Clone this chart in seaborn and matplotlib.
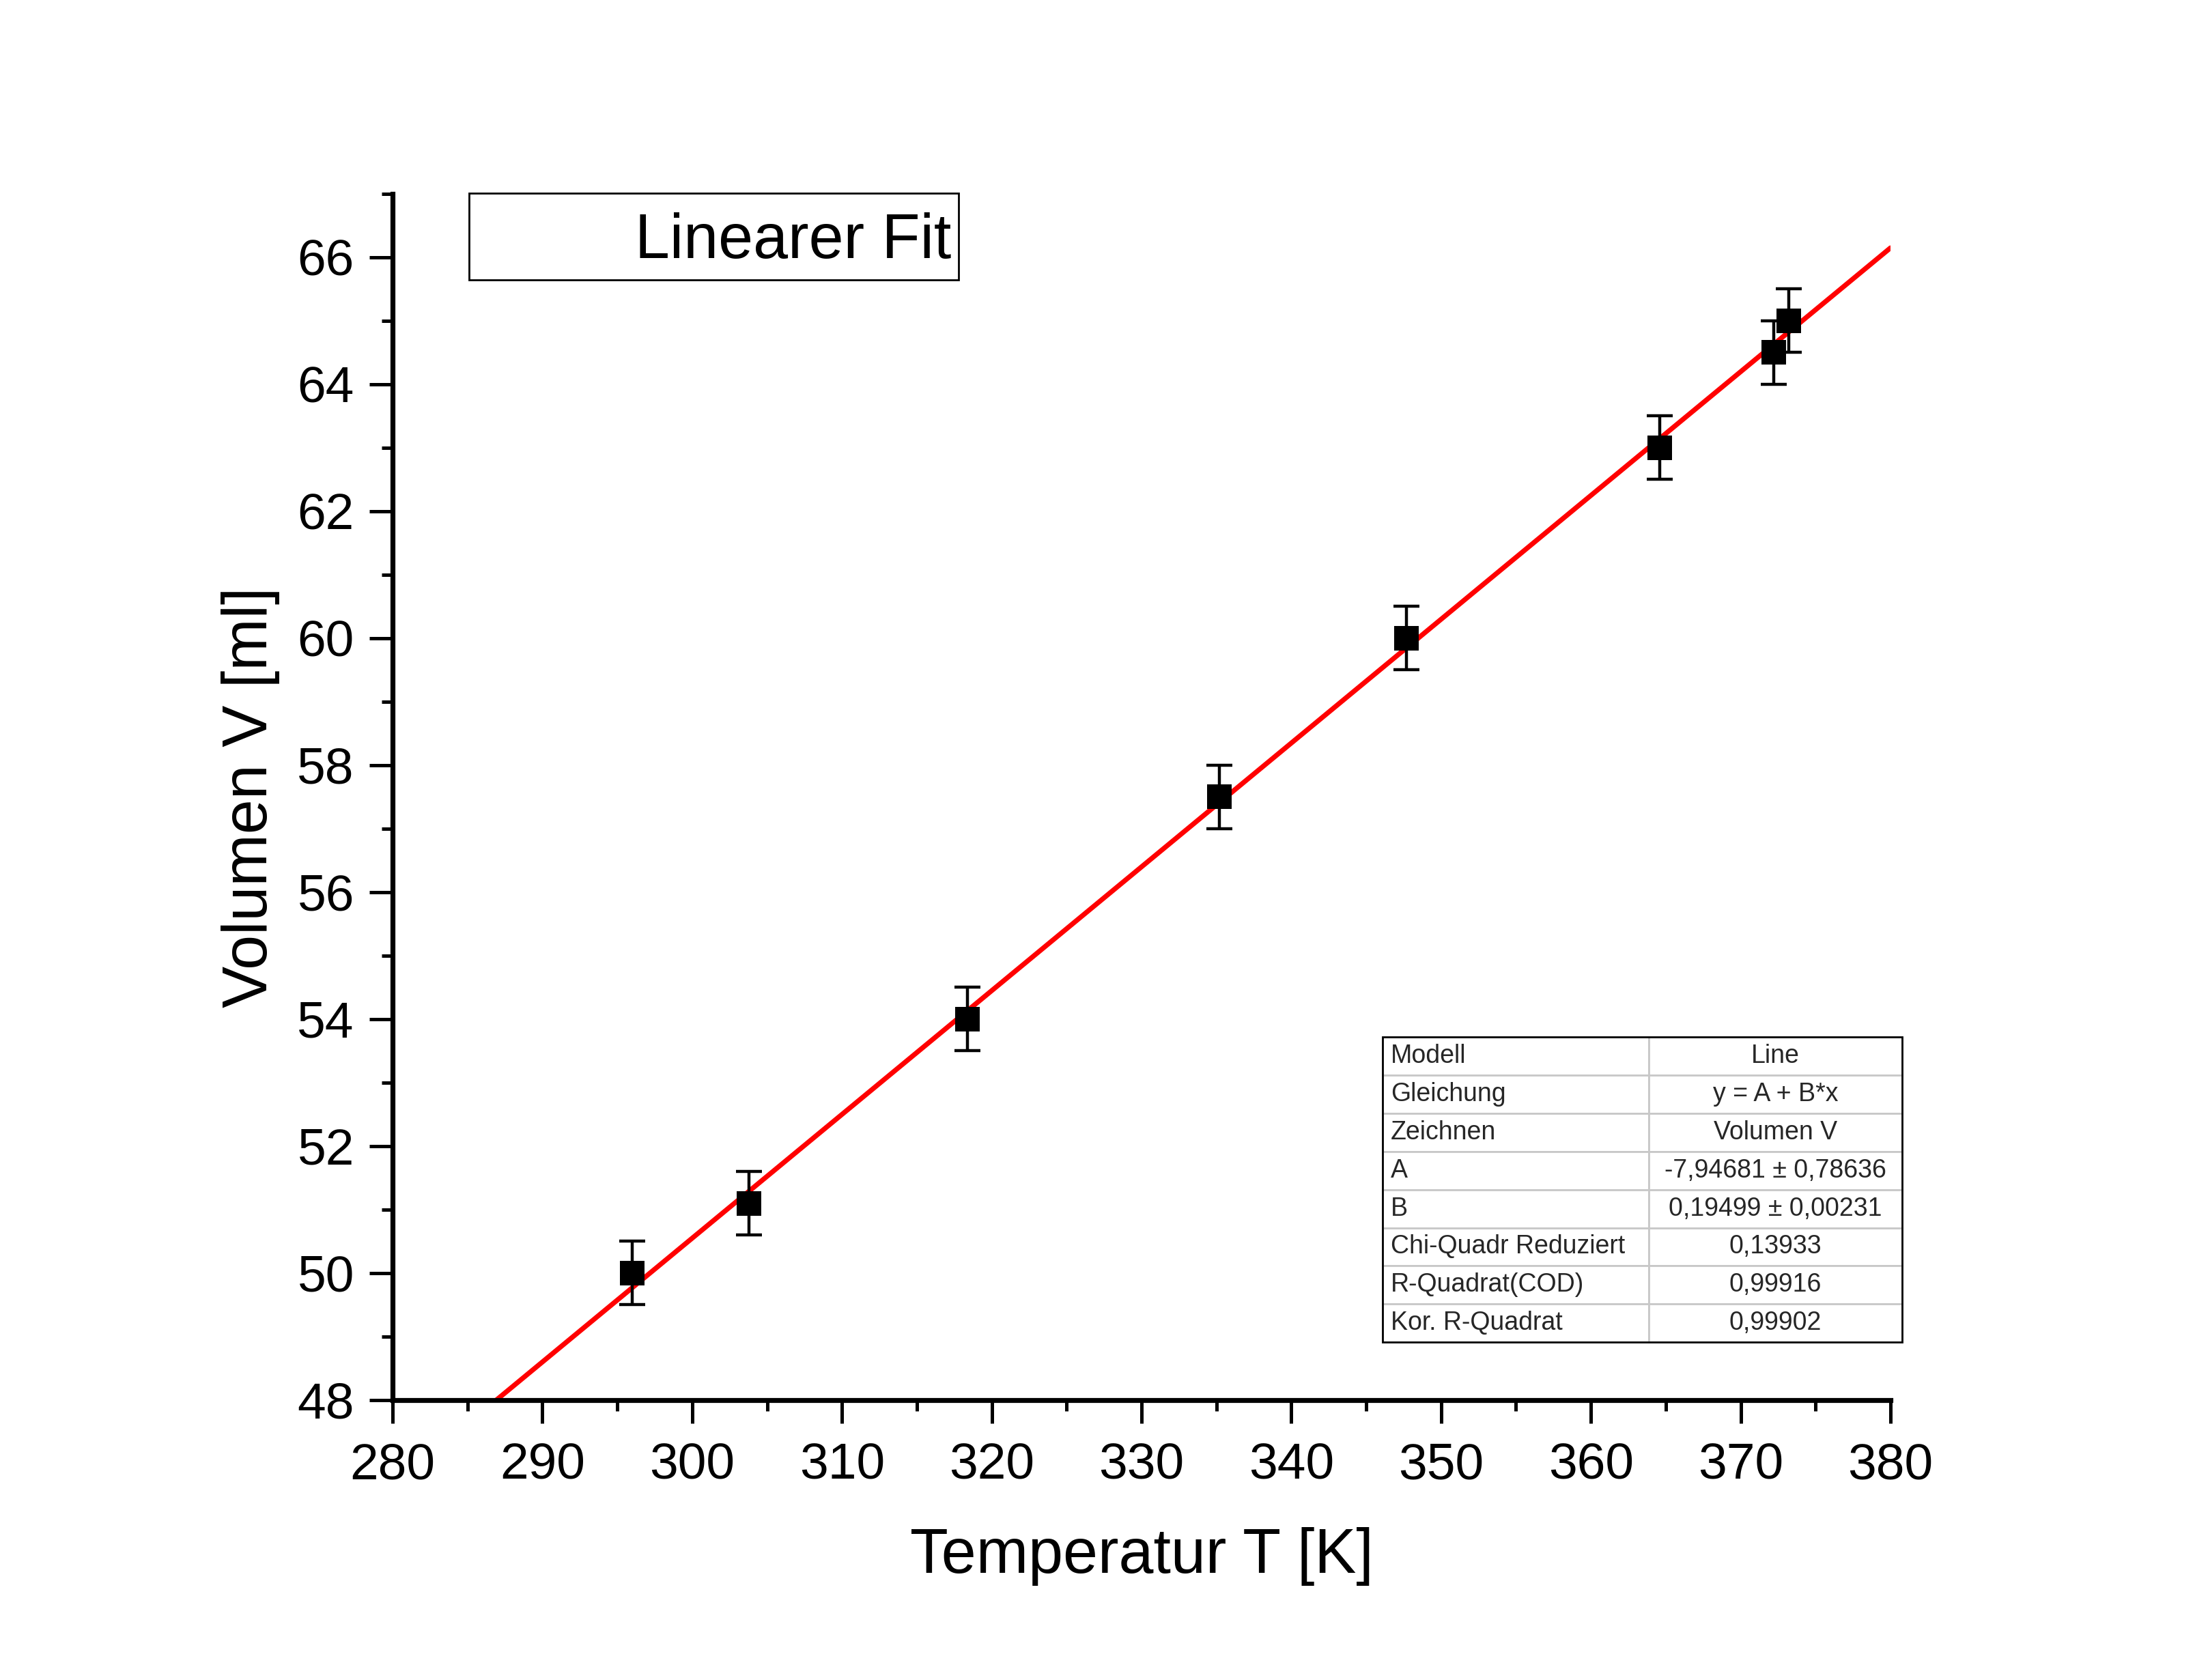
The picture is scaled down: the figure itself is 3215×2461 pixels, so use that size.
import matplotlib
matplotlib.use("Agg")
import matplotlib.pyplot as plt
import matplotlib.patches as mpatches
from matplotlib.ticker import MultipleLocator
import numpy as np
import pandas as pd
import seaborn as sns

temperatur = [296.0, 303.8, 318.4, 335.2, 347.7, 364.6, 372.2, 373.2]
volumen = [50.0, 51.1, 54.0, 57.5, 60.0, 63.0, 64.5, 65.0]
fehler = [0.5, 0.5, 0.5, 0.5, 0.5, 0.5, 0.5, 0.5]

# Fitparameter
fit_A = -7.94681
fit_B = 0.19499

# Ergebnistabelle
tab_links = ["Modell", "Gleichung", "Zeichnen", "A", "B",
             "Chi-Quadr Reduziert", "R-Quadrat(COD)", "Kor. R-Quadrat"]
tab_rechts = ["Line", "y = A + B*x", "Volumen V", "-7,94681 ± 0,78636",
              "0,19499 ± 0,00231", "0,13933", "0,99916", "0,99902"]

x_lim = (280, 380)
y_lim = (48, 67)

sns.set_theme(style="ticks")
plt.rcParams['font.family'] = ['Liberation Sans', 'DejaVu Sans']

df = pd.DataFrame({"T": temperatur, "V": volumen, "err": fehler})
df_fit = pd.DataFrame({"T": list(x_lim)})
df_fit["V"] = fit_A + fit_B * df_fit["T"]

fig = plt.figure(figsize=(16.08, 12.305), dpi=200)
ax = fig.add_axes([0.1788, 0.1666, 0.861 - 0.1788, 0.8846 - 0.1666])

# Fitgerade
sns.lineplot(data=df_fit, x="T", y="V", ax=ax, color="#ff0000", linewidth=2.6, zorder=2)

# Fehlerbalken + Messpunkte
ax.errorbar(df["T"], df["V"], yerr=df["err"], fmt="none", ecolor="black",
            elinewidth=1.6, capsize=7, capthick=1.6, zorder=3)
sns.scatterplot(data=df, x="T", y="V", ax=ax, marker="s", s=177, color="black",
                linewidth=0, zorder=4)

ax.set_xlim(*x_lim)
ax.set_ylim(*y_lim)
ax.xaxis.set_major_locator(MultipleLocator(10))
ax.xaxis.set_minor_locator(MultipleLocator(5))
ax.yaxis.set_major_locator(MultipleLocator(2))
ax.yaxis.set_minor_locator(MultipleLocator(1))

for s in ["top", "right"]:
    ax.spines[s].set_visible(False)
for s in ["left", "bottom"]:
    ax.spines[s].set_linewidth(2.6)
    ax.spines[s].set_color("black")

ax.tick_params(which="major", direction="out", length=12.2, width=1.8, color="black",
               labelsize=27, labelcolor="black")
ax.tick_params(which="minor", direction="out", length=5.8, width=1.8, color="black")
ax.tick_params(axis="x", which="major", pad=10)
ax.tick_params(axis="y", which="major", pad=8)

ax.set_xlabel("Temperatur T [K]", fontsize=33, labelpad=20, color="black")
ax.set_ylabel("Volumen V [ml]", fontsize=33, labelpad=9, color="black")

# Legendenkasten
box = mpatches.Rectangle((0.051, 0.9287), 0.378 - 0.051, 1.0006 - 0.9287,
                         transform=ax.transAxes, facecolor="white", edgecolor="black",
                         linewidth=1.0, clip_on=False, zorder=5)
ax.add_patch(box)
ax.text(0.373, 0.9605, "Linearer Fit", transform=ax.transAxes, ha="right", va="center",
        fontsize=33, color="black", zorder=6)

# Tabelle
zellen = [[a, b] for a, b in zip(tab_links, tab_rechts)]
tx0, tx1, ty0, ty1 = 0.661, 1.0077, 0.048, 0.301
tbl = ax.table(cellText=zellen, colWidths=[0.512, 0.488], cellLoc="left",
               bbox=[tx0, ty0, tx1 - tx0, ty1 - ty0], zorder=6)
tbl.auto_set_font_size(False)
tbl.set_fontsize(13.5)
for (r, c), cell in tbl.get_celld().items():
    cell.set_edgecolor("#c8c8c8")
    cell.set_linewidth(1.0)
    cell.set_facecolor("white")
    cell.PAD = 0.03
    if c == 1:
        cell._loc = "center"
        cell.get_text().set_ha("center")
rahmen = mpatches.Rectangle((tx0, ty0), tx1 - tx0, ty1 - ty0, transform=ax.transAxes,
                            fill=False, edgecolor="black", linewidth=1.0,
                            clip_on=False, zorder=7)
ax.add_patch(rahmen)

fig.savefig("out.png", dpi=200)
